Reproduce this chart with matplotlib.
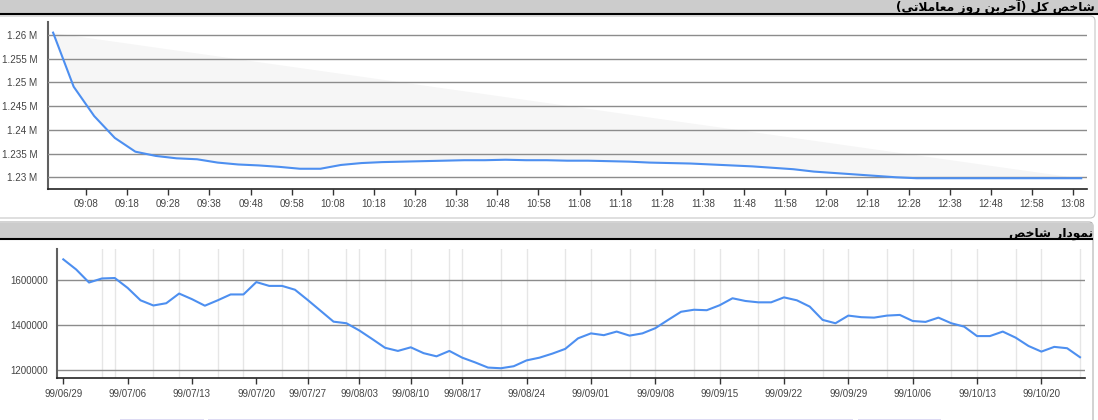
import matplotlib
matplotlib.use("Agg")
import matplotlib.pyplot as plt
import numpy as np
from matplotlib.patches import Rectangle, FancyBboxPatch

plt.rcParams['font.family'] = ['Liberation Sans', 'DejaVu Sans']

# ---- data: top chart (last trading day, index in millions) ----
top_times = ["09:00", "09:05", "09:10", "09:15", "09:20", "09:25", "09:30", "09:35",
             "09:40", "09:45", "09:50", "09:55", "10:00", "10:05", "10:10", "10:15",
             "10:20", "10:25", "10:30", "10:35", "10:40", "10:45", "10:50", "10:55",
             "11:00", "11:05", "11:10", "11:15", "11:20", "11:25", "11:30", "11:35",
             "11:40", "11:45", "11:50", "11:55", "12:00", "12:05", "12:10", "12:15",
             "12:20", "12:25", "12:30", "12:35", "12:40", "12:45", "12:50", "12:55",
             "13:00", "13:05", "13:10"]
top_values = [1.2605, 1.2491, 1.2429, 1.2383, 1.2354, 1.2345, 1.2340, 1.2338,
              1.2331, 1.2327, 1.2325, 1.2322, 1.2318, 1.2318, 1.2326, 1.2330,
              1.2332, 1.2333, 1.2334, 1.2335, 1.2336, 1.2336, 1.2337, 1.2336,
              1.2336, 1.2335, 1.2335, 1.2334, 1.2333, 1.2331, 1.2330, 1.2329,
              1.2327, 1.2325, 1.2323, 1.2320, 1.2317, 1.2312, 1.2309, 1.2306,
              1.2303, 1.2300, 1.2298, 1.2298, 1.2298, 1.2298, 1.2298, 1.2298,
              1.2298, 1.2298, 1.2298]
top_tick_labels = ["09:08", "09:18", "09:28", "09:38", "09:48", "09:58", "10:08", "10:18",
                   "10:28", "10:38", "10:48", "10:58", "11:08", "11:18", "11:28", "11:38",
                   "11:48", "11:58", "12:08", "12:18", "12:28", "12:38", "12:48", "12:58",
                   "13:08"]
top_yticks = [1.23, 1.235, 1.24, 1.245, 1.25, 1.255, 1.26]

# ---- data: bottom chart (daily index, one value per trading day) ----
daily_values = [1693, 1648, 1590, 1608, 1610, 1566, 1511, 1488, 1498, 1541,
                1516, 1487, 1511, 1537, 1537, 1592, 1575, 1575, 1558, 1512,
                1464, 1416, 1409, 1377, 1339, 1300, 1286, 1302, 1276, 1262,
                1286, 1256, 1235, 1212, 1209, 1218, 1244, 1256, 1274, 1295,
                1342, 1364, 1356, 1372, 1354, 1364, 1387, 1424, 1460, 1469,
                1467, 1489, 1520, 1508, 1502, 1502, 1524, 1511, 1483, 1424,
                1409, 1443, 1436, 1434, 1443, 1446, 1419, 1415, 1434, 1409,
                1394, 1352, 1352, 1372, 1345, 1308, 1283, 1304, 1298, 1258]
daily_values = [v * 1000 for v in daily_values]
date_tick_pos = [0, 5, 10, 15, 19, 23, 27, 31, 36, 41, 46, 51, 56, 61, 66, 71, 76]
date_tick_labels = ["99/06/29", "99/07/06", "99/07/13", "99/07/20", "99/07/27", "99/08/03",
                    "99/08/10", "99/08/17", "99/08/24", "99/09/01", "99/09/08", "99/09/15",
                    "99/09/22", "99/09/29", "99/10/06", "99/10/13", "99/10/20"]
date_grid_pos = [3, 4, 7, 9, 12, 14, 17, 19, 22, 23, 25, 27, 30, 31, 34, 36, 39, 41,
                 44, 46, 49, 51, 54, 56, 59, 61, 64, 66, 69, 71, 74, 76, 79]
daily_yticks = [1200000, 1400000, 1600000]

title_top = "شاخص کل (آخرین روز معاملاتی)"
title_bottom = "نمودار شاخص"

# ---- minimal Persian shaping (matplotlib has no RTL / joining support) ----
FORMS = {  # isolated, final, initial, medial
    'ا': ('\uFE8D', '\uFE8E', None, None),
    'آ': ('\uFE81', '\uFE82', None, None),
    'ت': ('\uFE95', '\uFE96', '\uFE97', '\uFE98'),
    'خ': ('\uFEA5', '\uFEA6', '\uFEA7', '\uFEA8'),
    'د': ('\uFEA9', '\uFEAA', None, None),
    'ر': ('\uFEAD', '\uFEAE', None, None),
    'ز': ('\uFEAF', '\uFEB0', None, None),
    'ش': ('\uFEB5', '\uFEB6', '\uFEB7', '\uFEB8'),
    'ص': ('\uFEB9', '\uFEBA', '\uFEBB', '\uFEBC'),
    'ع': ('\uFEC9', '\uFECA', '\uFECB', '\uFECC'),
    'ل': ('\uFEDD', '\uFEDE', '\uFEDF', '\uFEE0'),
    'م': ('\uFEE1', '\uFEE2', '\uFEE3', '\uFEE4'),
    'ن': ('\uFEE5', '\uFEE6', '\uFEE7', '\uFEE8'),
    'و': ('\uFEED', '\uFEEE', None, None),
    'ک': ('\uFB8E', '\uFB8F', '\uFB90', '\uFB91'),
    'ی': ('\uFBFC', '\uFBFD', '\uFBFE', '\uFBFF'),
}
LAMALEF = '\uFEFB'


def shape(text):
    text = text.replace('لا', LAMALEF)
    out = []
    for i, ch in enumerate(text):
        prev = text[i - 1] if i > 0 else ''
        nxt = text[i + 1] if i + 1 < len(text) else ''
        joins_prev = prev in FORMS and FORMS[prev][2] is not None
        if ch == LAMALEF:
            out.append('\uFEFC' if joins_prev else LAMALEF)
            continue
        if ch not in FORMS:
            out.append(ch)
            continue
        f = FORMS[ch]
        joins_next = f[2] is not None and (nxt in FORMS or nxt == LAMALEF)
        if joins_prev and joins_next:
            out.append(f[3])
        elif joins_prev:
            out.append(f[1])
        elif joins_next:
            out.append(f[2])
        else:
            out.append(f[0])
    mirror = {'(': ')', ')': '('}
    return ''.join(mirror.get(c, c) for c in reversed(out))


def to_min(s):
    h, m = s.split(':')
    return int(h) * 60 + int(m) - 540


W, H = 1098, 420
fig = plt.figure(figsize=(W / 100, H / 100), dpi=100)

# page background: panels, header bars, titles (pixel coordinates)
bg = fig.add_axes([0, 0, 1, 1])
bg.set_xlim(0, W)
bg.set_ylim(H, 0)
bg.axis('off')
bg.add_patch(FancyBboxPatch((-6, 16), 1101, 202, boxstyle='round,pad=0,rounding_size=5',
                            fc='white', ec='#c6c6c6', lw=0.8))
bg.add_patch(Rectangle((0, 0), W, 13.5, fc='#cccccc', ec='none'))
bg.plot([0, W], [14.3, 14.3], color='black', lw=1.5, solid_capstyle='butt')
bg.add_patch(FancyBboxPatch((-6, 222), 1099, 260, boxstyle='round,pad=0,rounding_size=4',
                            fc='white', ec='#b0b0b0', lw=0.8))
bg.add_patch(Rectangle((0, 223), 1093, 15.3, fc='#cccccc', ec='none'))
bg.plot([0, 1093], [239, 239], color='black', lw=1.5, solid_capstyle='butt')
for x0, x1 in [(120, 204), (208, 853), (858, 941)]:
    bg.add_patch(Rectangle((x0, 419), x1 - x0, 1.5, fc='#dddbf3', ec='none'))
bg.text(1095, 11.5, shape(title_top), ha='right', va='baseline', fontsize=8.8,
        fontweight='bold', family='DejaVu Sans', color='black')
bg.text(1093, 236.5, shape(title_bottom), ha='right', va='baseline', fontsize=8.8,
        fontweight='bold', family='DejaVu Sans', color='black')

line_color = '#4d8ff0'
grid_color = '#8c8c8c'
label_color = '#444444'

# ---- top chart ----
ax1 = fig.add_axes([48 / W, 1 - 189 / H, (1087 - 48) / W, (189 - 22) / H])
ax1.set_facecolor('none')
t = np.array([to_min(s) for s in top_times])
v = np.array(top_values)
diag = np.interp(t, [t[0], t[-1]], [v[0], v[-1]])
ax1.fill_between(t, v, diag, color='#f6f6f6', lw=0, zorder=1)
ax1.plot(t, v, color=line_color, lw=1.5, zorder=3)
ax1.set_xlim(-1.24, 251.4)
ax1.set_ylim(1.22753, 1.26274)
ax1.set_yticks(top_yticks)
ax1.set_yticklabels(['%g M' % y for y in top_yticks])
ax1.set_xticks([to_min(s) for s in top_tick_labels])
ax1.set_xticklabels(top_tick_labels)
ax1.grid(axis='y', color=grid_color, lw=1.0, zorder=2)
ax1.set_axisbelow(False)
ax1.tick_params(axis='y', length=0, pad=7.6, labelsize=7.1, labelcolor=label_color)
ax1.tick_params(axis='x', length=4, width=1, color='#333333', pad=3, labelsize=7.1,
                labelcolor=label_color)
for s in ['top', 'right']:
    ax1.spines[s].set_visible(False)
ax1.spines['left'].set_color('#606060')
ax1.spines['left'].set_linewidth(1.5)
ax1.spines['bottom'].set_color('#222222')
ax1.spines['bottom'].set_linewidth(1.2)

# ---- bottom chart ----
ax2 = fig.add_axes([57.3 / W, 1 - 377.7 / H, (1085 - 57.3) / W, (377.7 - 249) / H])
ax2.set_facecolor('none')
idx = np.arange(len(daily_values))
for g in date_grid_pos:
    ax2.axvline(g, color='#e6e6e6', lw=1.0, zorder=0)
ax2.plot(idx, daily_values, color=line_color, lw=1.5, zorder=3)
ax2.set_xlim(-0.466, 79.39)
ax2.set_ylim(1167000, 1739000)
ax2.set_yticks(daily_yticks)
ax2.set_yticklabels([str(y) for y in daily_yticks])
ax2.set_xticks(date_tick_pos)
ax2.set_xticklabels(date_tick_labels)
ax2.grid(axis='y', color=grid_color, lw=1.0, zorder=1)
ax2.tick_params(axis='y', length=0, pad=6.9, labelsize=7.0, labelcolor=label_color)
ax2.tick_params(axis='x', length=4, width=1, color='#333333', pad=4.3, labelsize=7.0,
                labelcolor=label_color)
for s in ['top', 'right']:
    ax2.spines[s].set_visible(False)
ax2.spines['left'].set_color('#606060')
ax2.spines['left'].set_linewidth(1.5)
ax2.spines['bottom'].set_color('#222222')
ax2.spines['bottom'].set_linewidth(1.2)

fig.savefig('out.png', dpi=100)
